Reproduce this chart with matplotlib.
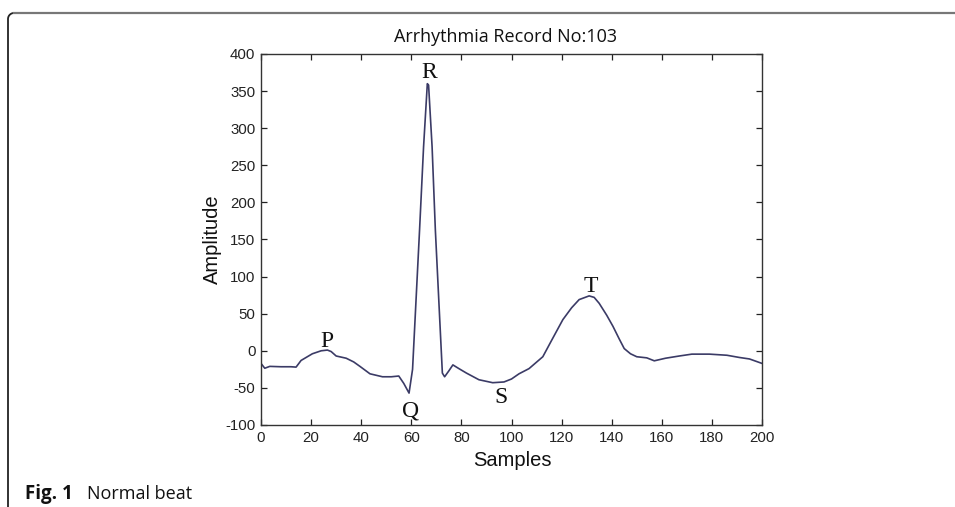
import numpy as np
import matplotlib
matplotlib.use("Agg")
import matplotlib.pyplot as plt
from matplotlib.lines import Line2D

plt.rcParams["axes.unicode_minus"] = False

# ---- data ----
samples = [0, 1.5, 3.5, 8, 12, 14, 16, 20.5, 24, 26.5, 28, 30, 34, 37, 39.5,
           43.5, 48.5, 52, 55, 57, 59.1, 60.5, 63.3, 64.9, 66.4, 66.9, 68.3,
           69.6, 72.4, 73.3, 75, 76.6, 79, 82, 87, 92.5, 97, 100, 103, 107,
           112.5, 116, 120.5, 124, 127, 131, 133, 135, 138, 140.5, 143, 145,
           147.5, 150, 154, 157, 161.5, 167, 172, 179, 186, 191, 195, 200]
amplitude = [-17, -23.5, -21, -21.5, -21.5, -22, -13, -4, 0, 1, -1, -7, -10,
             -15, -21, -31, -35, -35, -34, -44, -57, -25, 163, 275, 360, 358,
             275, 163, -30, -35, -27, -19, -24, -30, -39, -43, -42, -38, -31,
             -24, -8, 14, 42, 58, 69, 74, 72, 64, 48, 33, 16, 3, -4, -8, -9.5,
             -13.5, -10, -7, -4.5, -4.5, -6, -9, -11, -17]

wave_labels = ["P", "Q", "R", "S", "T"]
wave_x = [26.2, 59.8, 67.3, 95.9, 131.7]
wave_y = [4.7, -88, 367, -70, 79]

xticks = list(range(0, 201, 20))
yticks = list(range(-100, 401, 50))

title = "Arrhythmia Record No:103"
xlabel = "Samples"
ylabel = "Amplitude"

W, H = 955, 507
fig = plt.figure(figsize=(W / 100, H / 100), dpi=100)
fig.patch.set_facecolor("white")


def px(x, y):
    return x / W, 1 - y / H


# axes placement
L, R_, T_, B = 261, 762, 54, 425
ax = fig.add_axes([L / W, 1 - B / H, (R_ - L) / W, (B - T_) / H])
ax.plot(samples, amplitude, color="#3b3b66", lw=1.2)
ax.set_xlim(0, 200)
ax.set_ylim(-100, 400)
ax.set_xticks(xticks)
ax.set_yticks(yticks)
ax.tick_params(direction="in", top=True, right=True, length=4.5, width=0.9,
               labelsize=10.8, colors="#222222")
ax.tick_params(axis="x", pad=4.5)
ax.tick_params(axis="y", pad=4)
for lab in ax.get_xticklabels() + ax.get_yticklabels():
    lab.set_fontfamily("Liberation Sans")
for sp in ax.spines.values():
    sp.set_color("#333333")
    sp.set_linewidth(1.0)

for lab, xv, yv in zip(wave_labels, wave_x, wave_y):
    ax.text(xv, yv, lab, ha="center", va="baseline", fontsize=17,
            family="Liberation Serif", color="#111111")

fig.text(*px(506, 41.5), title, ha="center", va="baseline", fontsize=13,
         family="Open Sans", color="#111111")
fig.text(*px(512, 466), xlabel, ha="center", va="baseline", fontsize=14.5,
         family="Liberation Sans", color="#111111")
fig.text(*px(212, 239.5), ylabel, ha="center", va="center", rotation=90,
         fontsize=14.5, family="Liberation Sans", color="#111111")

fig.text(*px(25, 499), "Fig. 1", ha="left", va="baseline", fontsize=13.5,
         family="Open Sans", weight="bold", color="#111111")
fig.text(*px(87, 499), "Normal beat", ha="left", va="baseline", fontsize=13,
         family="Open Sans", color="#111111")

# rounded frame (left + top)
r = 6
th = np.linspace(np.pi, np.pi / 2, 12)
cx, cy = 8 + r, 13 + r
arc_x = cx + r * np.cos(th)
arc_y = cy - r * np.sin(th)
lx = [8, 8] + list(arc_x)
ly = [507, cy] + list(arc_y)
fig.add_artist(Line2D([v / W for v in lx], [1 - v / H for v in ly],
                      transform=fig.transFigure, color="#222222", lw=1.3))
fig.add_artist(Line2D([cx / W, 1.0], [1 - 13 / H, 1 - 13 / H],
                      transform=fig.transFigure, color="#777777", lw=1.6))

fig.savefig("out.png", dpi=100, facecolor="white")
